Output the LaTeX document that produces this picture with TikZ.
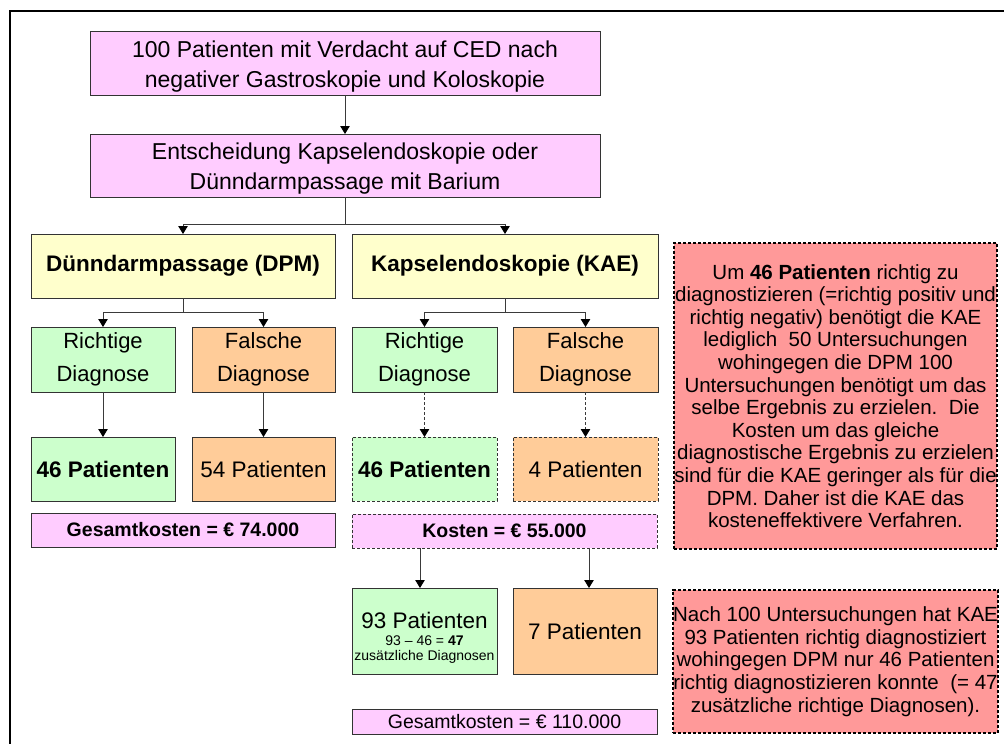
\documentclass[tikz,border=0pt]{standalone}
\usepackage{fontspec}
\setmainfont{Liberation Sans}
\usetikzlibrary{arrows.meta}
\definecolor{pinkfill}{HTML}{FFCCFF}
\definecolor{yellowfill}{HTML}{FFFFCC}
\definecolor{greenfill}{HTML}{CCFFCC}
\definecolor{orangefill}{HTML}{FFCC99}
\definecolor{redfill}{HTML}{FF9999}
\definecolor{edgecol}{HTML}{333333}
\definecolor{linecol}{HTML}{3A3A3A}
\newcommand{\bigfont}{\fontsize{23}{30}\selectfont}
\newcommand{\methodfont}{\fontsize{22.5}{30}\selectfont}
\newcommand{\diagfont}{\fontsize{22}{33}\selectfont}
\newcommand{\patfont}{\fontsize{22.5}{26}\selectfont}
\newcommand{\costfont}{\fontsize{19.5}{22}\selectfont}
\newcommand{\notefont}{\fontsize{20.5}{22.6}\selectfont}
\newcommand{\smallfont}{\fontsize{14}{15}\selectfont}
\tikzset{
  box/.style={draw=edgecol, line width=0.8pt, inner sep=0pt, outer sep=0pt,
    align=center, text=black},
  dashbox/.style={box, dash pattern=on 3pt off 2pt},
  notebox/.style={draw=black, fill=redfill, line width=1.6pt,
    dash pattern=on 3pt off 2pt, inner sep=0pt, outer sep=0pt, align=center,
    minimum width=323pt, font=\notefont},
  arr/.style={draw=linecol, line width=0.9pt,
    -{Triangle[width=9.5pt,length=8pt,color=black]}},
  dasharr/.style={arr, dash pattern=on 3pt off 2pt},
  link/.style={draw=linecol, line width=0.9pt},
}
\begin{document}
\begin{tikzpicture}[x=1pt,y=-1pt]
\useasboundingbox (0,0) rectangle (1004,744);
% outer frame
\draw[line width=2pt] (10,744) -- (10,11) -- (1004,11);

% top of the flow
\node[box, fill=pinkfill, minimum width=510pt, minimum height=64pt, font=\bigfont]
  (start) at (345,63) {\rule{0pt}{24pt}100 Patienten mit Verdacht auf CED nach\\negativer Gastroskopie und Koloskopie};
\node[box, fill=pinkfill, minimum width=510pt, minimum height=63pt, font=\bigfont]
  (choice) at (345,165.5) {\rule{0pt}{22pt}Entscheidung Kapselendoskopie oder\\Dünndarmpassage mit Barium};

% the two methods
\node[box, fill=yellowfill, minimum width=304pt, minimum height=64pt, font=\methodfont\bfseries]
  (dpm) at (183,266) {Dünndarmpassage (DPM)};
\node[box, fill=yellowfill, minimum width=306pt, minimum height=64pt, font=\methodfont\bfseries]
  (kae) at (505,266) {Kapselendoskopie (KAE)};

% diagnoses
\node[box, fill=greenfill, minimum width=144pt, minimum height=65pt, font=\diagfont]
  (dright) at (103,359.5) {Richtige\\Diagnose};
\node[box, fill=orangefill, minimum width=143pt, minimum height=65pt, font=\diagfont]
  (dwrong) at (263.5,359.5) {Falsche\\Diagnose};
\node[box, fill=greenfill, minimum width=145pt, minimum height=65pt, font=\diagfont]
  (kright) at (424.5,359.5) {Richtige\\Diagnose};
\node[box, fill=orangefill, minimum width=145pt, minimum height=65pt, font=\diagfont]
  (kwrong) at (585.5,359.5) {Falsche\\Diagnose};

% patient counts
\node[box, fill=greenfill, minimum width=144pt, minimum height=64pt, font=\patfont\bfseries]
  (d46) at (103,469) {46 Patienten};
\node[box, fill=orangefill, minimum width=143pt, minimum height=64pt, font=\patfont]
  (d54) at (263.5,469) {54 Patienten};
\node[dashbox, fill=greenfill, minimum width=145pt, minimum height=64pt, font=\patfont\bfseries]
  (k46) at (424.5,469) {46 Patienten};
\node[dashbox, fill=orangefill, minimum width=145pt, minimum height=64pt, font=\patfont]
  (k4) at (585.5,469) {4 Patienten};

% costs
\node[box, fill=pinkfill, minimum width=304pt, minimum height=34pt, font=\costfont\bfseries]
  (dcost) at (183,530) {Gesamtkosten = € 74.000};
\node[dashbox, fill=pinkfill, minimum width=305pt, minimum height=34pt, font=\costfont\bfseries]
  (kcost) at (504.5,531) {Kosten = € 55.000};

% second round of capsule endoscopy
\node[box, fill=greenfill, minimum width=145pt, minimum height=86pt, font=\smallfont]
  (k93) at (424.5,631) {\rule{0pt}{30pt}{\patfont 93 Patienten}\\[2pt]93 – 46 = \textbf{47}\\zusätzliche Diagnosen};
\node[box, fill=orangefill, minimum width=144pt, minimum height=86pt, font=\patfont]
  (k7) at (585,631) {7 Patienten};
\node[box, fill=pinkfill, minimum width=305pt, minimum height=25pt, font=\costfont]
  (ktotal) at (504.5,721.5) {Gesamtkosten = € 110.000};

% notes
\node[notebox, minimum height=306pt] (note1) at (835.5,396)
  {Um \textbf{46 Patienten} richtig zu\\
   diagnostizieren (=richtig positiv und\\
   richtig negativ) benötigt die KAE\\
   lediglich\ \ 50 Untersuchungen\\
   wohingegen die DPM 100\\
   Untersuchungen benötigt um das\\
   selbe Ergebnis zu erzielen.\ \ Die\\
   Kosten um das gleiche\\
   diagnostische Ergebnis zu erzielen\\
   sind für die KAE geringer als für die\\
   DPM. Daher ist die KAE das\\
   kosteneffektivere Verfahren.};
\node[notebox, minimum height=143pt] (note2) at (835.5,661.5)
  {Nach 100 Untersuchungen hat KAE\\
   93 Patienten richtig diagnostiziert\\
   wohingegen DPM nur 46 Patienten\\
   richtig diagnostizieren konnte\ \ (= 47\\
   zusätzliche richtige Diagnosen).};

% connectors
\draw[arr] (start) -- (choice);
\coordinate (split0) at ([yshift=-27pt]choice.south);
\draw[link] (choice.south) -- (split0);
\draw[arr] (split0) -| (dpm.north);
\draw[arr] (split0) -| (kae.north);

\coordinate (split1) at ([yshift=-14pt]dpm.south);
\draw[link] (dpm.south) -- (split1);
\draw[arr] (split1) -| (dright.north);
\draw[arr] (split1) -| (dwrong.north);

\coordinate (split2) at ([yshift=-14pt]kae.south);
\draw[link] (kae.south) -- (split2);
\draw[arr] (split2) -| (kright.north);
\draw[arr] (split2) -| (kwrong.north);

\draw[arr] (dright) -- (d46);
\draw[arr] (dwrong) -- (d54);
\draw[dasharr] (kright) -- (k46);
\draw[dasharr] (kwrong) -- (k4);

\draw[arr] ([xshift=-4.5pt]kcost.south -| k93.north) -- ([xshift=-4.5pt]k93.north);
\draw[arr] ([xshift=4pt]kcost.south -| k7.north) -- ([xshift=4pt]k7.north);
\end{tikzpicture}
\end{document}
